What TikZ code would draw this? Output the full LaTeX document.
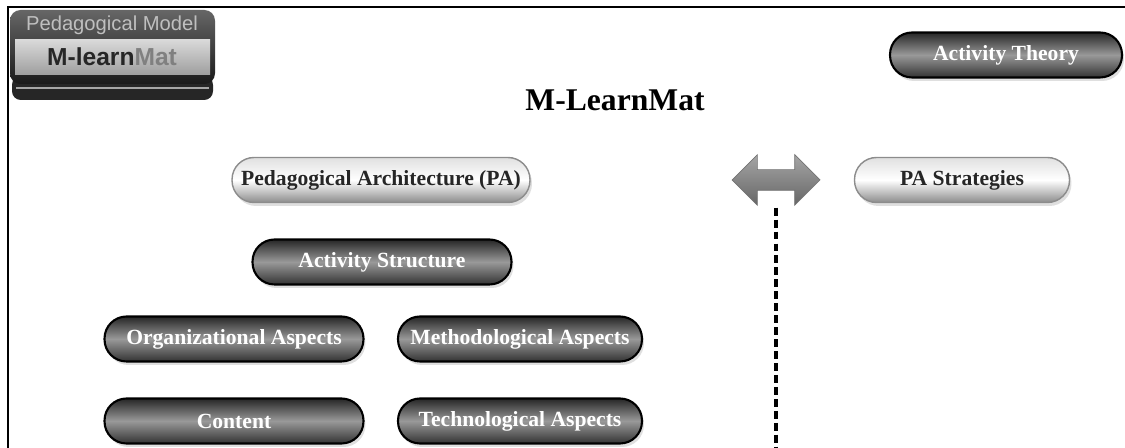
\documentclass[tikz,border=0pt]{standalone}
\usepackage{fontspec}
\setmainfont{Liberation Serif}
\newfontfamily\badgefont{Liberation Sans}
\usetikzlibrary{shapes.arrows,shadows}

\begin{document}
\begin{tikzpicture}[x=0.02cm,y=-0.02cm]
\tikzset{pill/.style = {rounded corners=0.44cm,minimum height=0.9cm,inner sep=0pt,
  font=\fontsize{12.3}{14}\selectfont\bfseries,
  drop shadow={opacity=0.25,shadow xshift=0.04cm,shadow yshift=-0.07cm}}}
\tikzset{darkpill/.style = {pill,draw=black,line width=1.2pt,top color=black!85,
  bottom color=black!80,middle color=black!40,text=white}}
\tikzset{lightpill/.style = {pill,draw=black!45,line width=0.8pt,top color=black!12,
  bottom color=black!45,middle color=white,text=black!85}}
\tikzset{dashline/.style = {line width=2pt,dash pattern=on 4.5pt off 2.3pt}}

\useasboundingbox (0,0) rectangle (1125,448);
\draw[line width=1.2pt] (8,448) -- (8,7) -- (1125,7);

% badge of the model
\fill[black!85,rounded corners=5pt] (12,76) rectangle (213,100);
\draw[black!35,line width=1pt] (16,88) -- (209,88);
\shade[top color=black!60,bottom color=black!90,rounded corners=6pt] (10,10) rectangle (215,84);
\shade[top color=black!15,bottom color=black!38] (15,40) rectangle (210,75);
\node[font=\badgefont\fontsize{11.5}{13}\selectfont,text=black!25] (PM) at (112,25) {Pedagogical Model};
\node[font=\badgefont\bfseries\fontsize{14}{16}\selectfont,text=black!85] (ML) at (112,57) {M-learn\textcolor{black!50}{Mat}};

\node[font=\fontsize{18}{21}\selectfont\bfseries] (T) at (615,100) {M-LearnMat};

% pills
\node[darkpill,minimum width=4.64cm] (AT) at (1006,55) {Activity Theory};
\node[lightpill,minimum width=5.96cm] (PA) at (381,180) {Pedagogical Architecture (PA)};
\node[lightpill,minimum width=4.3cm] (PS) at (962,180) {PA Strategies};
\node[darkpill,minimum width=5.18cm] (AS) at (382,262) {Activity Structure};
\node[darkpill,minimum width=5.18cm] (OA) at (234,339) {Organizational Aspects};
\node[darkpill,minimum width=4.88cm] (MA) at (520,339) {Methodological Aspects};
\node[darkpill,minimum width=5.18cm] (CO) at (234,421) {Content};
\node[darkpill,minimum width=4.88cm] (TA) at (520,421) {Technological Aspects};

\node[double arrow,draw=black!55,top color=black!35,bottom color=black!60,
  minimum height=1.76cm,minimum width=1cm,inner xsep=0pt,inner ysep=0.2cm,
  double arrow head extend=0.3cm] (AR) at (776,180) {};
\coordinate (DE) at (776,448);
\draw[dashline] (AR.south) ++(0,17) -- (DE);

\end{tikzpicture}
\end{document}
